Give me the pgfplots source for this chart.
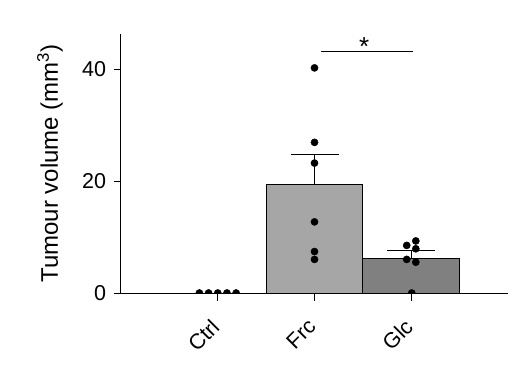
\documentclass[border=0pt]{standalone}
\usepackage{pgfplots}
\pgfplotsset{compat=1.18}
\usepackage{fontspec}
\setmainfont{Liberation Sans}
\definecolor{frcgray}{RGB}{166,166,166}
\definecolor{glcgray}{RGB}{128,128,128}
\begin{document}
\begin{tikzpicture}
\path[use as bounding box] (-121pt,-80pt) rectangle (400pt,293pt);
\begin{axis}[
  at={(0,0)}, anchor=south west,
  scale only axis, width=387pt, height=259pt,
  xmin=-1, xmax=3, ymin=0, ymax=46.25,
  axis lines=left, axis line style={-, line width=1pt},
  clip marker paths=true,
  xtick={0,1,2}, xticklabels={Ctrl,Frc,Glc},
  ytick={0,20,40},
  tick align=outside,
  major tick length=7.5pt,
  tick style={line width=1pt, black},
  /pgf/number format/assume math mode=true,
  tick label style={font=\fontsize{21.5}{24}\selectfont},
  yticklabel style={xshift=-4pt},
  xticklabel style={xshift=-8pt, yshift=-17pt, rotate=45, anchor=north east, inner sep=0pt},
  every axis y label/.style={at={(axis description cs:0,0.5)}, xshift=-63pt, rotate=90, anchor=base},
  ylabel={\fontsize{24}{26}\selectfont Tumour volume (mm\textsuperscript{3})},
]
\addplot[ybar, bar width=96.75pt, fill=frcgray, draw=black, line width=0.8pt] coordinates {(1,19.4)};
\addplot[ybar, bar width=96.75pt, fill=glcgray, draw=black, line width=0.8pt] coordinates {(2,6.2)};
\addplot[draw=none, mark=none, forget plot,
  error bars/.cd, y dir=plus, y explicit,
  error bar style={line width=1pt, black},
  error mark options={rotate=90, mark size=24pt, line width=1pt, black}]
  coordinates {(1,19.4) +- (0,5.4) (2,6.2) +- (0,1.4)};
% Ctrl points
\addplot[only marks, mark=*, mark size=3.6pt, black] coordinates {(-0.19,0) (-0.095,0) (0,0) (0.095,0) (0.19,0)};
% Frc points
\addplot[only marks, mark=*, mark size=3.6pt, black] coordinates {(1,40.2) (1,26.9) (1,23.2) (1,12.7) (1,7.4) (1,6.0)};
% Glc points
\addplot[only marks, mark=*, mark size=3.6pt, black] coordinates {(1.953,8.5) (2.047,9.3) (2.047,7.9) (1.953,6.0) (2.047,5.5) (2.005,0)};
% significance
\addplot[black, line width=1pt, mark=none] coordinates {(1.065,43.1) (2.015,43.1)};
\node[anchor=base, inner sep=0pt, font=\fontsize{26}{28}\selectfont] at (axis cs:1.514,42.5) {*};
\end{axis}
\end{tikzpicture}
\end{document}
